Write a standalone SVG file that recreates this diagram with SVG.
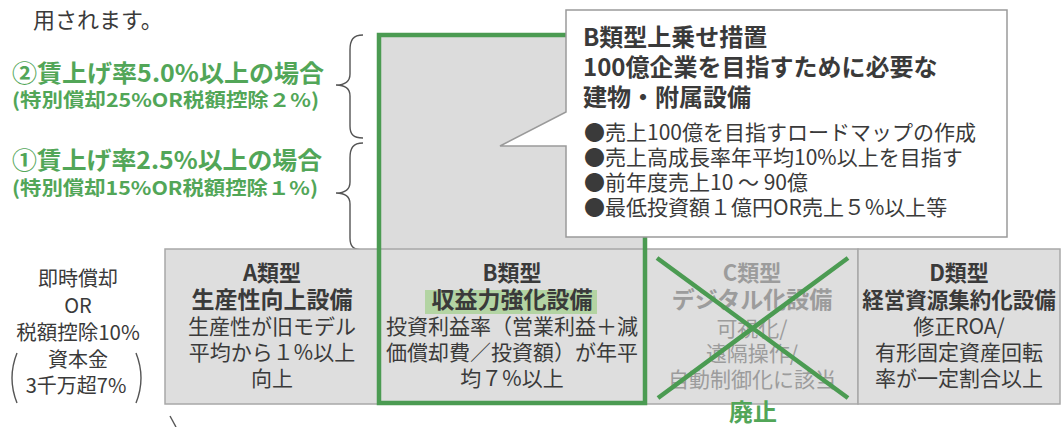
<svg xmlns="http://www.w3.org/2000/svg" width="1061" height="427" viewBox="0 0 1061 427">
<style>
text{font-family:"Noto Sans CJK JP","Noto Sans",sans-serif;fill:#3a3a3a}
.b{font-weight:700}
.m{text-anchor:middle}
.g{fill:#52a658}
.gray{fill:#9c9c9c}
.cell{fill:#dedede;stroke:#a8a8a8;stroke-width:1.5}
.brace{fill:none;stroke:#555;stroke-width:1.4}
.gl{fill:none;stroke:#4b9b52;stroke-width:4.5}
</style>
<rect width="1061" height="427" fill="#fff"/>
<g id="intro"><text x="33" y="28" font-size="22">用されます。</text></g>
<g id="wage-2">
<text class="b g" x="12" y="82" font-size="24" textLength="312" lengthAdjust="spacingAndGlyphs">②賃上げ率5.0%以上の場合</text>
<text class="b g" x="12" y="107" font-size="19" textLength="307" lengthAdjust="spacingAndGlyphs">(特別償却25%OR税額控除２%)</text>
</g>
<g id="wage-1">
<text class="b g" x="12" y="169" font-size="24" textLength="310" lengthAdjust="spacingAndGlyphs">①賃上げ率2.5%以上の場合</text>
<text class="b g" x="12" y="195" font-size="19" textLength="306" lengthAdjust="spacingAndGlyphs">(特別償却15%OR税額控除１%)</text>
</g>
<g id="connectors">
<path class="brace" d="M363,35 C353,35 350,40 350,50 L350,74 C350,81 346,85 336,85 C346,85 350,89 350,96 L350,126 C350,134 353,138 363,138"/>
<path class="brace" d="M363,143 C353,143 350,148 350,158 L350,182 C350,189 346,193 336,193 C346,193 350,197 350,204 L350,238 C350,246 353,250 363,250"/>
<path class="brace" d="M170,416 L176,427"/>
</g>
<g id="b-upper"><rect x="379" y="35" width="266" height="214" fill="#dcdcdc"/></g>
<g id="left-note">
<text class="m" x="78" y="286" font-size="20">即時償却</text>
<text class="m" x="78" y="313" font-size="20">OR</text>
<text class="m" x="78" y="340" font-size="20.5">税額控除10%</text>
<text class="m" x="78" y="367" font-size="20">資本金</text>
<text class="m" x="76" y="393" font-size="20">3千万超7%</text>
<path class="brace" d="M17,353 Q7,378 17,403"/>
<path class="brace" d="M136,353 Q146,378 136,403"/>
</g>
<g id="type-a">
<rect class="cell" x="165" y="249" width="214" height="155"/>
<text class="b m" x="272" y="281" font-size="22">A類型</text>
<text class="b m" x="272" y="308" font-size="23">生産性向上設備</text>
<text class="m" x="272" y="334" font-size="21">生産性が旧モデル</text>
<text class="m" x="272" y="360" font-size="21">平均から１%以上</text>
<text class="m" x="272" y="386" font-size="21">向上</text>
</g>
<g id="type-b">
<rect class="cell" x="379" y="249" width="266" height="155"/>
<rect x="425" y="290" width="172" height="24" fill="#b3d4a3"/>
<text class="b m" x="512" y="281" font-size="22">B類型</text>
<text class="b m" x="512" y="308" font-size="23">収益力強化設備</text>
<text class="m" x="512" y="334" font-size="21">投資利益率（営業利益＋減</text>
<text class="m" x="512" y="360" font-size="21">価償却費／投資額）が年平</text>
<text class="m" x="512" y="386" font-size="21">均７%以上</text>
</g>
<g id="type-c">
<rect class="cell" x="645" y="249" width="213" height="155"/>
<text class="b m gray" x="752" y="281" font-size="22">C類型</text>
<text class="b m gray" x="752" y="308" font-size="23">デジタル化設備</text>
<text class="m gray" x="752" y="336" font-size="21">可視化/</text>
<text class="m gray" x="752" y="361" font-size="21">遠隔操作/</text>
<text class="m gray" x="752" y="387" font-size="21">自動制御化に該当</text>
<path class="gl" d="M657,258 L848,398 M848,258 L658,398" stroke-width="4"/>
<text class="b m g" x="753" y="421" font-size="24">廃止</text>
</g>
<g id="type-d">
<rect class="cell" x="858" y="249" width="202" height="155"/>
<text class="b m" x="959" y="281" font-size="22">D類型</text>
<text class="b m" x="959" y="308" font-size="21.5">経営資源集約化設備</text>
<text class="m" x="959" y="334" font-size="21">修正ROA/</text>
<text class="m" x="959" y="360" font-size="21">有形固定資産回転</text>
<text class="m" x="959" y="386" font-size="21">率が一定割合以上</text>
</g>
<g id="b-frame"><rect class="gl" x="379" y="35" width="266" height="368"/></g>
<g id="callout">
<path d="M566,10 L1007,10 L1007,237 L566,237 L566,146 L500,146 L566,112 Z" fill="#fff" stroke="#9a9a9a" stroke-width="1.5"/>
<text class="b" x="583" y="46" font-size="24">B類型上乗せ措置</text>
<text class="b" x="583" y="76" font-size="24">100億企業を目指すために必要な</text>
<text class="b" x="583" y="106" font-size="24">建物・附属設備</text>
<text x="584" y="140" font-size="21">●売上100億を目指すロードマップの作成</text>
<text x="584" y="165" font-size="21">●売上高成長率年平均10%以上を目指す</text>
<text x="584" y="190" font-size="21">●前年度売上10 ～ 90億</text>
<text x="584" y="215" font-size="21">●最低投資額１億円OR売上５%以上等</text>
</g>
</svg>
